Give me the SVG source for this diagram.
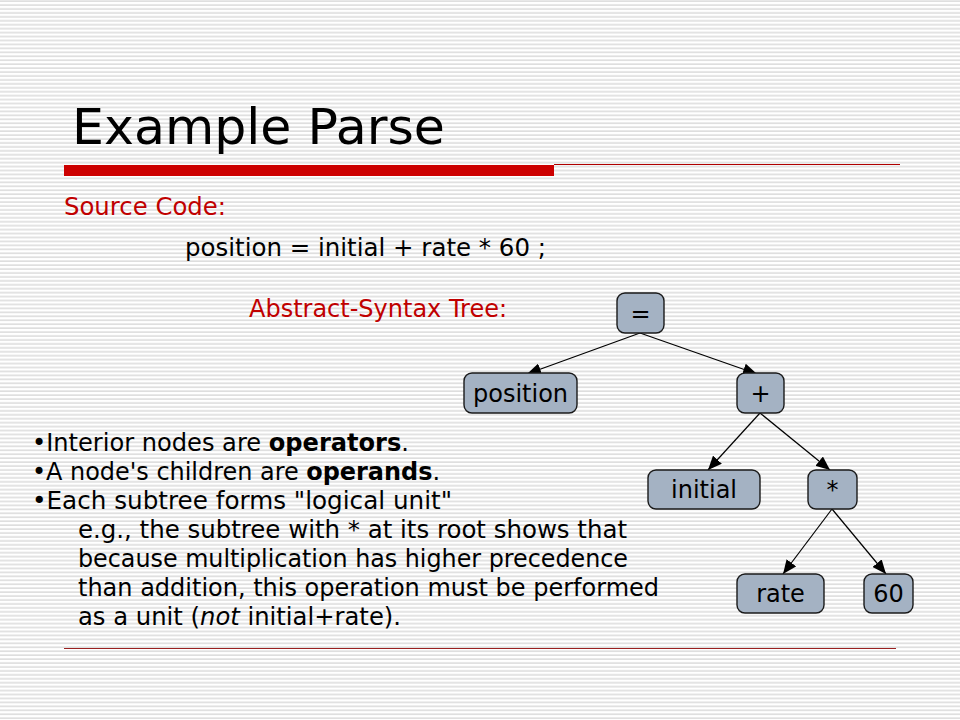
<svg xmlns="http://www.w3.org/2000/svg" width="960" height="720" viewBox="0 0 960 720">
<style>
text{font-family:"DejaVu Sans","Noto Sans",sans-serif;fill:#000}
.red{fill:#C00000}
.body{font-size:24px}
.node rect{fill:#A4B2C3;stroke:#1a1a1a;stroke-width:1.4}
.node text{font-size:24px;text-anchor:middle}
.edge{stroke:#000;stroke-width:1.2;fill:none;marker-end:url(#ah)}
</style>
<defs>
<pattern id="stripes" x="0" y="0" width="8" height="3.94" patternUnits="userSpaceOnUse">
<rect x="0" y="0.4" width="8" height="1.4" fill="#D8D8D8"/>
</pattern>
<marker id="ah" viewBox="0 0 14 12" refX="14" refY="6" markerWidth="14" markerHeight="12" markerUnits="userSpaceOnUse" orient="auto">
<path d="M0,0 L14,6 L0,12 Z" fill="#000"/>
</marker>
</defs>
<rect width="960" height="720" fill="#fff"/>
<rect width="960" height="720" fill="url(#stripes)"/>

<g id="title">
<text x="72" y="144" font-size="50" textLength="373" lengthAdjust="spacingAndGlyphs">Example Parse</text>
<rect x="64" y="165" width="490" height="11" fill="#CC0000"/>
<line x1="554" y1="164.5" x2="900" y2="164.5" stroke="#B00000" stroke-width="1"/>
<line x1="64" y1="648.5" x2="896" y2="648.5" stroke="#9A2020" stroke-width="1"/>
</g>

<g id="labels">
<text class="body red" x="64" y="215" textLength="162" lengthAdjust="spacingAndGlyphs">Source Code:</text>
<text class="body" x="185" y="256" textLength="361" lengthAdjust="spacingAndGlyphs">position = initial + rate * 60 ;</text>
<text class="body red" x="249" y="317" textLength="258" lengthAdjust="spacingAndGlyphs">Abstract-Syntax Tree:</text>
</g>

<g id="notes" class="body">
<text x="32" y="451" textLength="377" lengthAdjust="spacingAndGlyphs">•Interior nodes are <tspan font-weight="bold">operators</tspan>.</text>
<text x="32" y="480" textLength="408" lengthAdjust="spacingAndGlyphs">•A node's children are <tspan font-weight="bold">operands</tspan>.</text>
<text x="32" y="509" textLength="420" lengthAdjust="spacingAndGlyphs">•Each subtree forms "logical unit"</text>
<text x="78" y="538" textLength="549" lengthAdjust="spacingAndGlyphs">e.g., the subtree with * at its root shows that</text>
<text x="78" y="567" textLength="550" lengthAdjust="spacingAndGlyphs">because multiplication has higher precedence</text>
<text x="78" y="596" textLength="581" lengthAdjust="spacingAndGlyphs">than addition, this operation must be performed</text>
<text x="78" y="625" textLength="323" lengthAdjust="spacingAndGlyphs">as a unit (<tspan font-style="italic">not</tspan> initial+rate).</text>
</g>

<g id="connectors">
<path class="edge" d="M640,333 L527,374"/>
<path class="edge" d="M640,333 L757,374"/>
<path class="edge" d="M760,413 L708,470"/>
<path class="edge" d="M760,413 L830,470"/>
<path class="edge" d="M832,509 L783,574"/>
<path class="edge" d="M832,509 L886,574"/>
</g>

<g id="node-eq" class="node"><rect x="617" y="293" width="47" height="40" rx="8"/><text x="640.5" y="322">=</text></g>
<g id="node-position" class="node"><rect x="464" y="373" width="113" height="40" rx="8"/><text x="520.5" y="402">position</text></g>
<g id="node-plus" class="node"><rect x="737" y="373" width="47" height="40" rx="8"/><text x="760.5" y="402">+</text></g>
<g id="node-initial" class="node"><rect x="648" y="470" width="112" height="39" rx="8"/><text x="704" y="498">initial</text></g>
<g id="node-times" class="node"><rect x="808" y="470" width="49" height="39" rx="8"/><text x="832.5" y="498">*</text></g>
<g id="node-rate" class="node"><rect x="737" y="574" width="87" height="39" rx="8"/><text x="780.5" y="602">rate</text></g>
<g id="node-60" class="node"><rect x="864" y="574" width="49" height="39" rx="8"/><text x="888.5" y="602">60</text></g>
</svg>
